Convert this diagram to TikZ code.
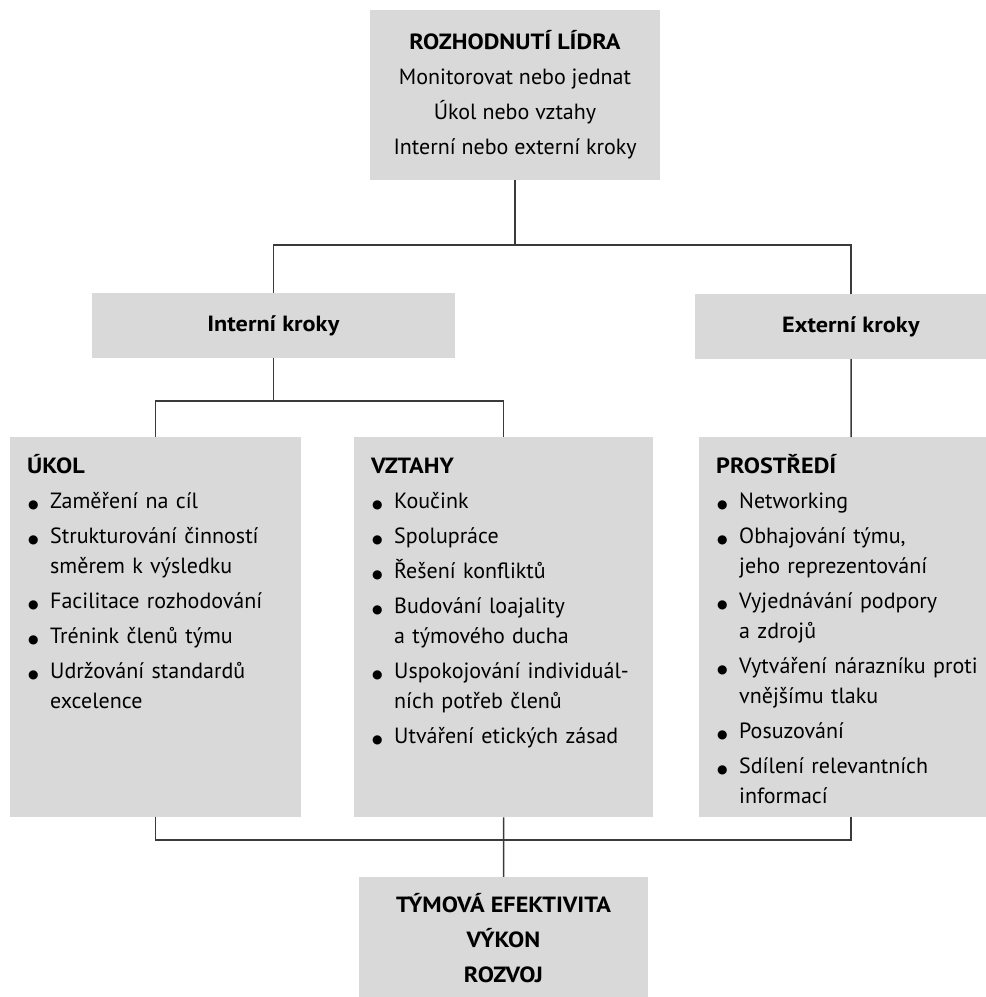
\documentclass[tikz,border=0pt]{standalone}
\usepackage{fontspec}
\setmainfont{PT Sans}[BoldFeatures={FakeStretch=1.1}]
\newfontfamily\znaky{DejaVu Sans}
\usetikzlibrary{positioning}
\definecolor{seda}{HTML}{D9D9D9}
\definecolor{cara}{HTML}{3A3A3A}
\newcommand{\tecka}{{\znaky\fontsize{12}{12}\selectfont ●}}
\newcommand{\pol}[1]{\par\vspace{5pt}\hangindent=23pt\hangafter=1\noindent\hbox to 23pt{\hspace{1pt}\tecka\hfil}#1\par}

\begin{document}
\begin{tikzpicture}[x=1pt,y=-1pt,
    box/.style={fill=seda, inner sep=0pt, align=center,
        font=\fontsize{22}{35}\selectfont},
    seznam/.style={fill=seda, anchor=north west, inner xsep=17pt, inner ysep=0pt,
        align=left, text height=36pt, text depth=344pt,
        font=\fontsize{22}{30}\selectfont},
    spoj/.style={draw=cara, line width=1.5pt}]
	\useasboundingbox (0,0) rectangle (986,997);
	\clip (0,0) rectangle (986,997);
	% horni rozhodnuti
	\node[box, minimum width=290pt, minimum height=170pt] (horni) at (515,95)
		{\textbf{ROZHODNUTÍ LÍDRA}\\Monitorovat nebo jednat\\Úkol nebo vztahy\\Interní nebo externí kroky};
	\node[box, minimum width=363pt, minimum height=65pt] (interni) at (273.5,325.5) {\textbf{Interní kroky}};
	\node[box, minimum width=312pt, minimum height=65pt] (externi) at (851,326.5) {\textbf{Externí kroky}};
	% tri oblasti
	\node[seznam, text width=257pt] (ukol) at (10,437) {\textbf{ÚKOL}
		\pol{Zaměření na cíl}
		\pol{Strukturování činností\newline směrem k výsledku}
		\pol{Facilitace rozhodování}
		\pol{Trénink členů týmu}
		\pol{Udržování standardů\newline excelence}};
	\node[seznam, text width=265pt] (vztahy) at (354,437) {\textbf{VZTAHY}
		\pol{Koučink}
		\pol{Spolupráce}
		\pol{Řešení konfliktů}
		\pol{Budování loajality\newline a týmového ducha}
		\pol{Uspokojování individuál-\newline ních potřeb členů}
		\pol{Utváření etických zásad}};
	\node[seznam, text width=270pt] (prostredi) at (699,437) {\textbf{PROSTŘEDÍ}
		\pol{Networking}
		\pol{Obhajování týmu,\newline jeho reprezentování}
		\pol{Vyjednávání podpory\newline a zdrojů}
		\pol{Vytváření nárazníku proti\newline vnějšímu tlaku}
		\pol{Posuzování}
		\pol{Sdílení relevantních\newline informací}};
	% vysledek
	\node[box, minimum width=289pt, minimum height=122pt] (vysledek) at (503.5,938)
		{\textbf{TÝMOVÁ EFEKTIVITA}\\\textbf{VÝKON}\\\textbf{ROZVOJ}};
	% spojnice
	\coordinate (rozcesti) at (horni.south |- 0,245);
	\coordinate (rozcesti2) at (interni.south |- 0,401);
	\coordinate (soutok) at (vztahy.south |- 0,840);
	\draw[spoj] (horni) -- (rozcesti);
	\draw[spoj] (interni.north) |- (rozcesti) -| (externi.north);
	\draw[spoj] (interni) -- (rozcesti2);
	\draw[spoj] (ukol.north) |- (rozcesti2) -| (vztahy.north);
	\draw[spoj] (externi) -- (prostredi);
	\draw[spoj] (ukol.south) |- (soutok) -| (prostredi.south);
	\draw[spoj] (vztahy) -- (vysledek);
\end{tikzpicture}
\end{document}
